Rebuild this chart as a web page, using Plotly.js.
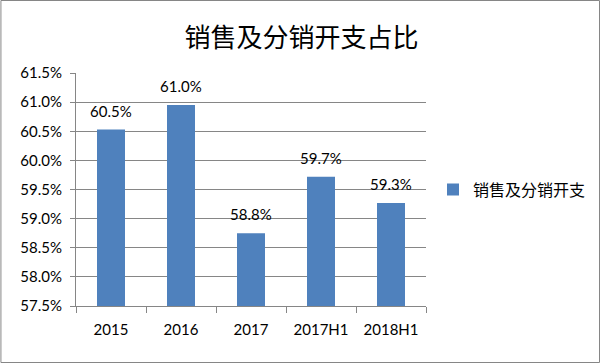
<!DOCTYPE html>
<html><head><meta charset="utf-8">
<script src="https://cdn.plot.ly/plotly-3.0.1.min.js"></script>
<style>html,body{margin:0;padding:0;background:#fff}#c{width:603px;height:363px}</style>
</head><body><div id="c"></div>
<script>
const categories = ["2015", "2016", "2017", "2017H1", "2018H1"];
const values = [60.53, 60.95, 58.75, 59.72, 59.27];
const labels = ["60.5%", "61.0%", "58.8%", "59.7%", "59.3%"];
const seriesName = "销售及分销开支";
const yTicks = [57.5, 58.0, 58.5, 59.0, 59.5, 60.0, 60.5, 61.0, 61.5];
const yTickText = yTicks.map(v => v.toFixed(1) + "%");

const numFont = "Lato, 'Liberation Sans', sans-serif";
const trace = {
  type: "bar", x: categories, y: values, name: seriesName,
  marker: {color: "#4F81BD"},
  hoverinfo: "none"
};
const annotations = categories.map((c, i) => ({
  x: i, y: values[i], xref: "x", yref: "y", text: labels[i], showarrow: false,
  yanchor: "bottom", yshift: 8,
  font: {family: numFont, size: 15, color: "#000"}
}));
const layout = {
  width: 603, height: 363,
  margin: {l: 76, r: 175, t: 73, b: 57},
  paper_bgcolor: "#fff", plot_bgcolor: "#fff",
  title: {text: "销售及分销开支占比", x: 0.5, xanchor: "center", xref: "container",
    y: 0.895, yanchor: "middle", yref: "container",
    font: {family: "'Noto Sans CJK SC', sans-serif", size: 26, color: "#000"}},
  bargap: 0.6,
  showlegend: true,
  legend: {x: 1.02, xanchor: "left", y: 0.5, yanchor: "middle",
    font: {family: "'Noto Sans CJK SC', sans-serif", size: 16, color: "#000"}},
  annotations: annotations,
  xaxis: {type: "category", categoryorder: "array", categoryarray: categories,
    tickson: "boundaries", ticks: "outside", ticklen: 6, tickcolor: "#868686",
    showline: true, linecolor: "#868686", showgrid: false, ticklabelstandoff: 10,
    tickfont: {family: numFont, size: 15, color: "#000"}},
  yaxis: {range: [57.5, 61.5], tickvals: yTicks, ticktext: yTickText, ticks: "outside", ticklen: 5,
    tickcolor: "#868686", showline: true, linecolor: "#868686", gridcolor: "#868686", zeroline: false,
    ticklabelstandoff: 5,
    tickfont: {family: numFont, size: 15, color: "#000"}},
  shapes: [{type: "rect", xref: "paper", yref: "paper", x0: -75.5/352, x1: 1 + 174.5/352, y0: -56.5/233, y1: 1 + 72.5/233,
    line: {color: "#868686", width: 1}}]
};
Plotly.newPlot("c", [trace], layout, {displayModeBar: false, staticPlot: true});
</script></body></html>
